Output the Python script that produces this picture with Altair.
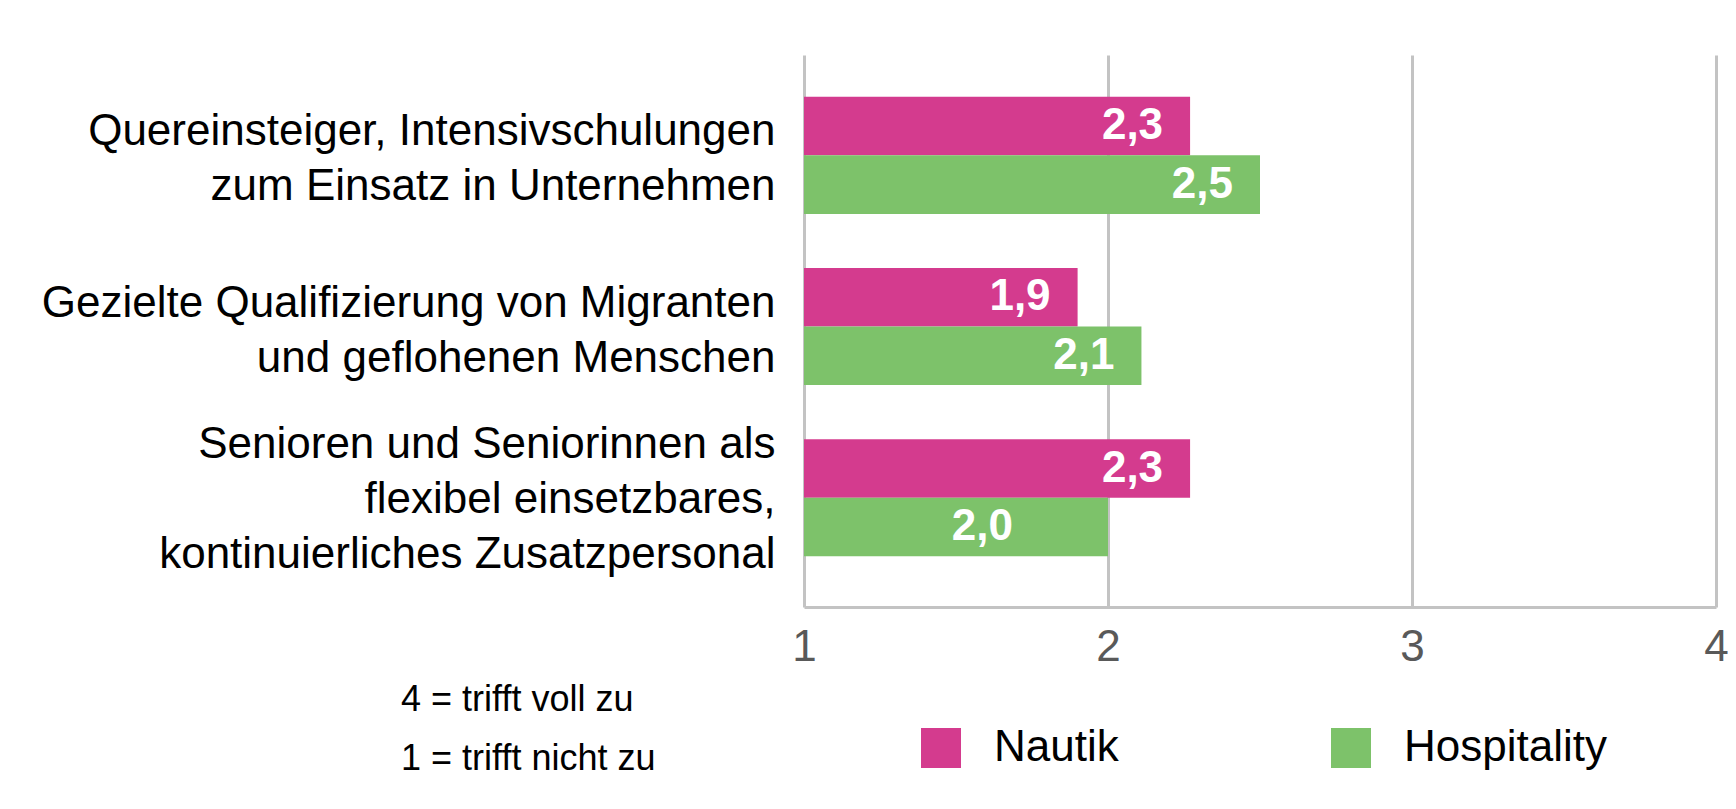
import altair as alt
import pandas as pd

CATEGORIES = [
    "Quereinsteiger, Intensivschulungen|zum Einsatz in Unternehmen",
    "Gezielte Qualifizierung von Migranten|und geflohenen Menschen",
    "Senioren und Seniorinnen als|flexibel einsetzbares,|kontinuierliches Zusatzpersonal",
]
SERIES = ["Nautik", "Hospitality"]
NAUTIK = [2.27, 1.90, 2.27]
HOSPITALITY = [2.50, 2.11, 2.00]
X_TICKS = [1, 2, 3, 4]
NOTES = ["4 = trifft voll zu", "1 = trifft nicht zu"]
COLORS = ["#D43B8E", "#7DC26A"]

FONT = "Liberation Sans"

rows = []
for c, n, h in zip(CATEGORIES, NAUTIK, HOSPITALITY):
    rows.append({"category": c, "series": SERIES[0], "value": n})
    rows.append({"category": c, "series": SERIES[1], "value": h})
df = pd.DataFrame(rows)
df["label"] = df["value"].map(lambda v: f"{v:.1f}".replace(".", ","))

y_scale = alt.Scale(paddingInner=0.316, paddingOuter=0.27, align=0.452)

y_enc = alt.Y(
    "category:N",
    sort=CATEGORIES,
    scale=y_scale,
    axis=alt.Axis(
        title=None,
        labelExpr="split(datum.label, '|')",
        labelFontSize=44,
        labelLineHeight=55,
        labelColor="#000000",
        labelPadding=29,
        labelLimit=1000,
        labelAlign="right",
        labelBaseline="middle",
        labelOffset={
            "condition": {"test": "length(split(datum.label, '|')) == 3", "value": -53},
            "value": -23,
        },
        domain=False,
        ticks=False,
        labelFont=FONT,
    ),
)
yoff_enc = alt.YOffset("series:N", sort=SERIES, scale=alt.Scale(paddingInner=0, paddingOuter=0))
x_enc = alt.X(
    "value:Q",
    scale=alt.Scale(domain=[1, 4], zero=False, nice=False),
    axis=alt.Axis(
        values=X_TICKS,
        title=None,
        grid=True,
        gridColor="#c3c3c3",
        gridWidth=3,
        domainColor="#c3c3c3",
        domainWidth=3,
        ticks=False,
        labelFontSize=44,
        labelColor="#595959",
        labelPadding=18,
        labelFont=FONT,
        labelFlush=False,
        format="d",
    ),
)

bars = alt.Chart(df).mark_bar().encode(
    x=x_enc,
    x2=alt.datum(1),
    y=y_enc,
    yOffset=yoff_enc,
    color=alt.Color(
        "series:N",
        sort=SERIES,
        scale=alt.Scale(domain=SERIES, range=COLORS),
        legend=alt.Legend(
            orient="none",
            legendX=115,
            legendY=671,
            direction="horizontal",
            title=None,
            symbolType="square",
            symbolSize=1600,
            symbolStrokeWidth=0,
            labelFontSize=44,
            labelFont=FONT,
            labelColor="#000000",
            labelOffset=31,
            labelLimit=1000,
            columnPadding=210,
        ),
    ),
)

last_rule = f"datum.category == '{CATEGORIES[2]}' && datum.series == '{SERIES[1]}'"

y_plain = alt.Y("category:N", sort=CATEGORIES)
yoff_plain = alt.YOffset("series:N", sort=SERIES)

labels_main = alt.Chart(df).transform_filter(f"!({last_rule})").mark_text(
    align="right", baseline="middle", dx=-27, color="white",
    fontSize=44, fontWeight="bold", font=FONT,
).encode(x="value:Q", y=y_plain, yOffset=yoff_plain, text="label:N")

labels_odd = alt.Chart(df).transform_filter(last_rule).mark_text(
    align="right", baseline="middle", dx=-95, color="white",
    fontSize=44, fontWeight="bold", font=FONT,
).encode(x="value:Q", y=y_plain, yOffset=yoff_plain, text="label:N")

notes = alt.Chart(alt.InlineData(values=[{"k": 0}])).mark_text(
    text=NOTES, align="left", baseline="middle", fontSize=36, lineHeight=59,
    font=FONT, color="#000000",
).encode(x=alt.value(-403), y=alt.value(645))

chart = alt.layer(bars, labels_main, labels_odd, notes).properties(
    width=912,
    height=552,
    autosize=alt.AutoSizeParams(type="none"),
    padding={"left": 796, "top": 47, "right": 12, "bottom": 194},
    background="white",
).configure_view(stroke=None)

chart.save("out.html", embed_options={"renderer": "svg", "actions": False})
